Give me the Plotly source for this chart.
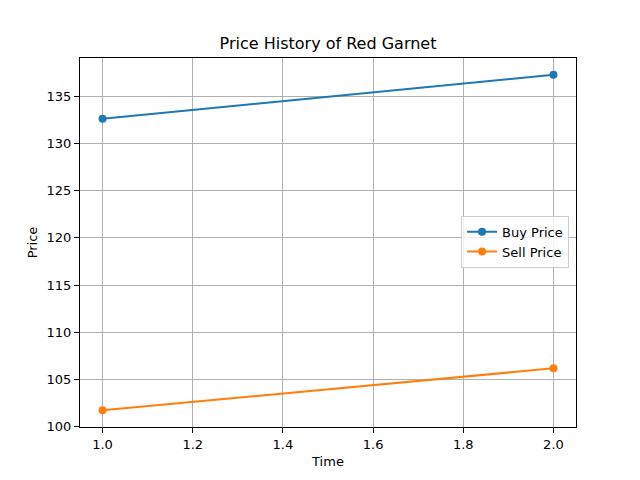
import plotly.graph_objects as go

time = [1.0, 2.0]
buy_price = [132.67, 137.33]
sell_price = [101.7, 106.15]
x_ticks = [1.0, 1.2, 1.4, 1.6, 1.8, 2.0]
y_ticks = [100, 105, 110, 115, 120, 125, 130, 135]

fig = go.Figure()
fig.add_trace(go.Scatter(x=time, y=buy_price, mode="lines+markers", name="Buy Price",
                         line=dict(color="#1f77b4", width=2), marker=dict(size=8, color="#1f77b4")))
fig.add_trace(go.Scatter(x=time, y=sell_price, mode="lines+markers", name="Sell Price",
                         line=dict(color="#ff7f0e", width=2), marker=dict(size=8, color="#ff7f0e")))

axis_common = dict(showline=True, linecolor="black", linewidth=1, mirror=True,
                   ticks="outside", ticklen=5, tickcolor="black",
                   showgrid=True, gridcolor="#b0b0b0", gridwidth=1, zeroline=False,
                   tickfont=dict(size=13, color="black"))

fig.update_layout(
    width=640, height=480,
    paper_bgcolor="white", plot_bgcolor="white",
    font=dict(family="DejaVu Sans", color="black"),
    title=dict(text="Price History of Red Garnet", x=0.5, xanchor="center", y=0.927, yanchor="middle",
               font=dict(size=16)),
    margin=dict(l=72, r=72, t=50, b=61),
    xaxis=dict(range=[0.95, 2.05], tickvals=x_ticks, ticktext=[f"{v:.1f}" for v in x_ticks],
               title=dict(text="Time", font=dict(size=13), standoff=6), **axis_common),
    yaxis=dict(range=[99.92, 139.11], tickvals=y_ticks,
               title=dict(text="Price", font=dict(size=13), standoff=6), **axis_common),
    legend=dict(x=0.986, y=0.502, xanchor="right", yanchor="middle",
                bgcolor="rgba(255,255,255,0.8)", bordercolor="#cccccc", borderwidth=1,
                font=dict(size=13)),
    showlegend=True,
)

fig.write_html("out.html")
